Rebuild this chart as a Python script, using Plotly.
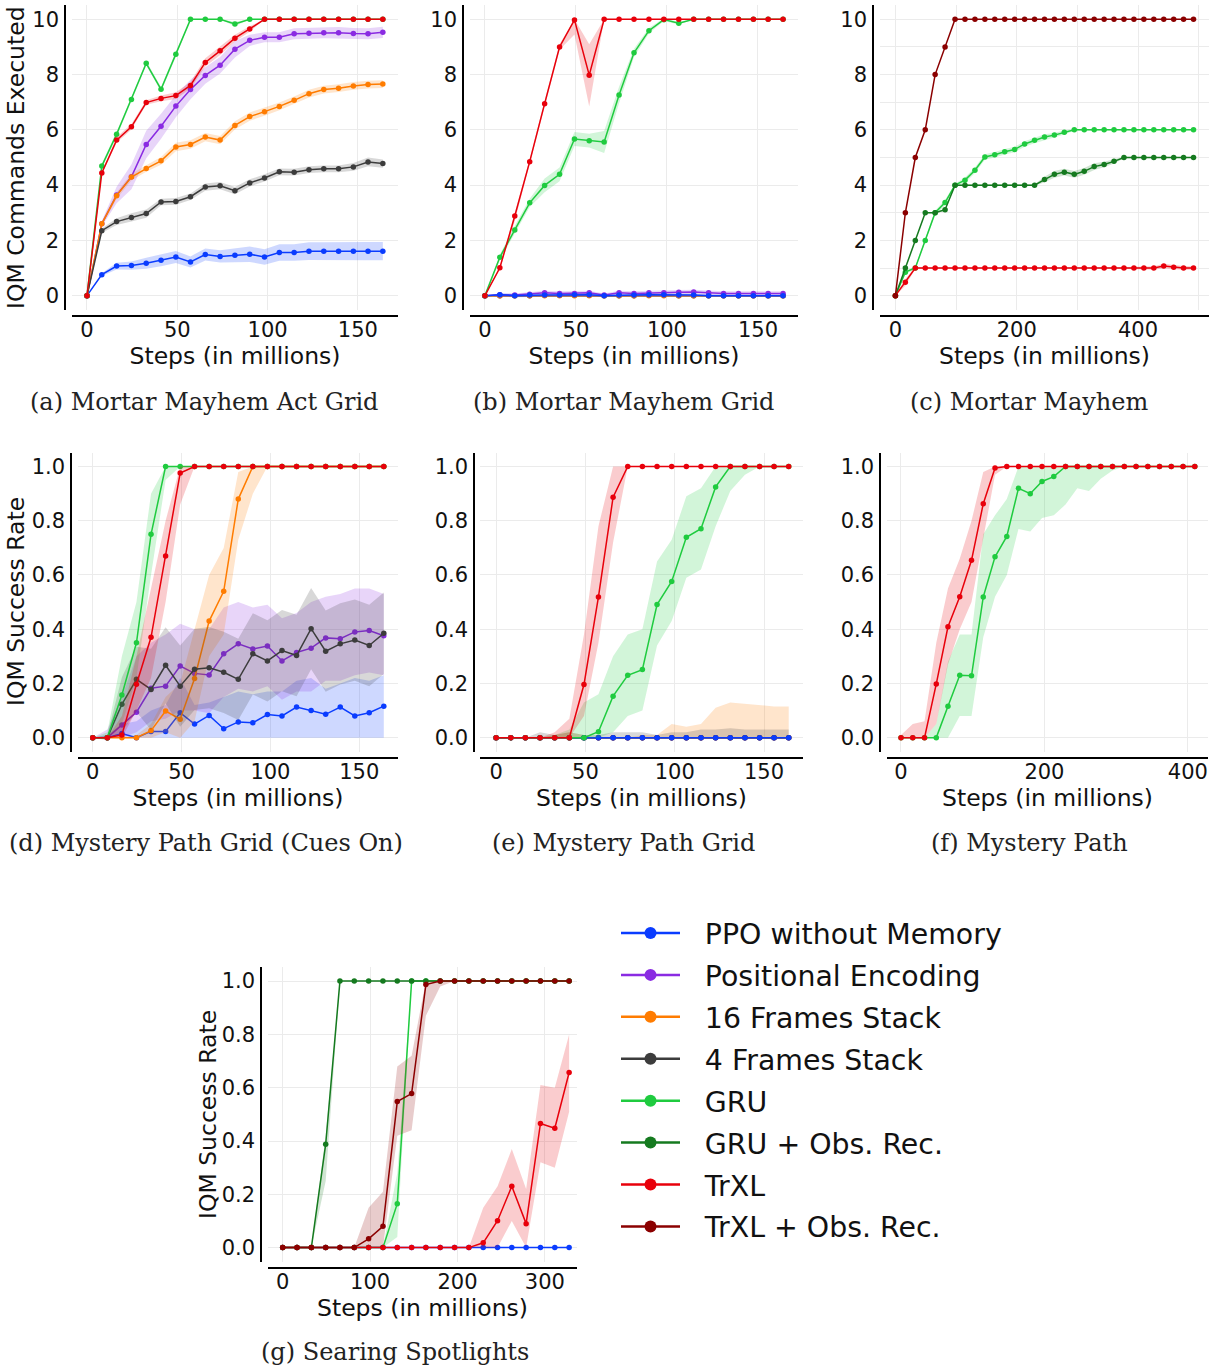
import plotly.graph_objects as go

W, H = 1220, 1369

# ---------------- x values (steps in millions) ----------------
X8 = [0, 8.2, 16.4, 24.6, 32.8, 41.0, 49.2, 57.3, 65.5, 73.7, 81.9, 90.1, 98.3,
      106.5, 114.7, 122.9, 131.1, 139.3, 147.5, 155.6, 163.8]
X16 = [0, 16.4, 32.8, 49.2, 65.5, 81.9, 98.3, 114.7, 131.1, 147.5, 163.8, 180.2,
       196.6, 213.0, 229.4, 245.8, 262.1, 278.5, 294.9, 311.3, 327.7, 344.1, 360.4,
       376.8, 393.2, 409.6, 426.0, 442.4, 458.8, 475.1, 491.5]
X16_F = X16[:26]
X16_G = X16[:21]

# ---------------- (a) Mortar Mayhem Act Grid ----------------
A_PPO = [0, 0.76, 1.07, 1.09, 1.17, 1.28, 1.40, 1.22, 1.49, 1.42, 1.46, 1.50, 1.40, 1.56, 1.56, 1.61, 1.61, 1.61, 1.61, 1.61, 1.61]
A_PPO_SD = [0, 0.05, 0.12, 0.15, 0.2, 0.22, 0.22, 0.2, 0.22, 0.22, 0.25, 0.28, 0.28, 0.3, 0.3, 0.32, 0.32, 0.33, 0.33, 0.33, 0.33]
A_POS = [0, 2.60, 3.64, 4.30, 5.47, 6.13, 6.86, 7.46, 7.97, 8.34, 8.92, 9.24, 9.35, 9.35, 9.48, 9.50, 9.52, 9.52, 9.49, 9.48, 9.53]
A_POS_SD = [0, 0.1, 0.3, 0.45, 0.5, 0.45, 0.4, 0.35, 0.3, 0.3, 0.3, 0.2, 0.18, 0.18, 0.2, 0.2, 0.2, 0.2, 0.2, 0.2, 0.2]
A_F16 = [0, 2.60, 3.62, 4.29, 4.60, 4.88, 5.38, 5.47, 5.74, 5.63, 6.16, 6.48, 6.66, 6.85, 7.07, 7.31, 7.46, 7.51, 7.59, 7.64, 7.66]
A_F16_SD = [0, 0.08, 0.12, 0.12, 0.12, 0.14, 0.15, 0.15, 0.15, 0.15, 0.15, 0.15, 0.15, 0.14, 0.14, 0.14, 0.14, 0.14, 0.14, 0.14, 0.14]
A_F4 = [0, 2.35, 2.68, 2.83, 2.97, 3.39, 3.41, 3.58, 3.93, 3.98, 3.80, 4.08, 4.26, 4.48, 4.47, 4.56, 4.59, 4.59, 4.66, 4.84, 4.78]
A_F4_SD = [0, 0.08, 0.12, 0.15, 0.15, 0.12, 0.12, 0.12, 0.13, 0.13, 0.13, 0.13, 0.13, 0.12, 0.12, 0.12, 0.12, 0.12, 0.14, 0.16, 0.15]
A_GRU = [0, 4.69, 5.84, 7.10, 8.41, 7.47, 8.74, 10, 10, 10, 9.83, 10, 10, 10, 10, 10, 10, 10, 10, 10, 10]
A_GRU_SD = [0, 0.08, 0.1, 0.08, 0.08, 0.08, 0.1, 0, 0, 0, 0.08, 0, 0, 0, 0, 0, 0, 0, 0, 0, 0]
A_TRXL = [0, 4.44, 5.63, 6.11, 6.99, 7.14, 7.24, 7.61, 8.44, 8.86, 9.32, 9.65, 10, 10, 10, 10, 10, 10, 10, 10, 10]
A_TRXL_SD = [0, 0.05, 0.1, 0.1, 0.08, 0.1, 0.12, 0.12, 0.15, 0.15, 0.12, 0.1, 0, 0, 0, 0, 0, 0, 0, 0, 0]

# ---------------- (b) Mortar Mayhem Grid ----------------
B_PPO = [0, 0.03, 0, 0.02, 0.02, 0.02, 0.03, 0.03, 0, 0.02, 0.02, 0.03, 0.03, 0.02, 0.02, 0, 0, 0, 0, 0, 0]
B_PPO_SD = [0, 0.06, 0.06, 0.06, 0.06, 0.06, 0.06, 0.06, 0.05, 0.05, 0.05, 0.05, 0.05, 0.05, 0.05, 0.04, 0.04, 0.04, 0.04, 0.04, 0.04]
B_POS = [0, 0.03, 0.02, 0.05, 0.1, 0.08, 0.08, 0.1, 0.02, 0.1, 0.08, 0.1, 0.1, 0.12, 0.13, 0.1, 0.08, 0.08, 0.08, 0.08, 0.08]
B_POS_SD = [0, 0.05, 0.06, 0.08, 0.08, 0.08, 0.08, 0.08, 0.06, 0.08, 0.08, 0.08, 0.08, 0.08, 0.08, 0.08, 0.08, 0.08, 0.08, 0.08, 0.08]
B_F16 = [0, 0, 0, 0, 0, 0, 0, 0, 0, 0, 0, 0, 0, 0, 0, 0, 0, 0, 0, 0, 0]
B_F16_SD = [0, 0.01, 0.01, 0.02, 0.02, 0.02, 0.02, 0.02, 0.02, 0.02, 0.02, 0.02, 0.02, 0.02, 0.02, 0.02, 0.02, 0.02, 0.02, 0.02, 0.02]
B_F4 = [0, 0, 0, 0, 0.01, 0.01, 0.01, 0.01, 0, 0, 0, 0.01, 0.01, 0, 0, 0, 0, 0, 0, 0, 0]
B_F4_SD = [0, 0.02, 0.02, 0.03, 0.03, 0.03, 0.03, 0.03, 0.02, 0.03, 0.03, 0.03, 0.03, 0.03, 0.03, 0.03, 0.02, 0.02, 0.02, 0.02, 0.02]
B_GRU = [0, 1.39, 2.38, 3.36, 3.99, 4.39, 5.67, 5.61, 5.56, 7.26, 8.79, 9.59, 9.99, 9.86, 10, 10, 10, 10, 10, 10, 10]
B_GRU_SD = [0, 0.1, 0.15, 0.15, 0.25, 0.25, 0.25, 0.25, 0.4, 0.3, 0.15, 0.1, 0.05, 0.05, 0, 0, 0, 0, 0, 0, 0]
B_TRXL = [0, 1.01, 2.88, 4.85, 6.95, 9.0, 9.98, 7.98, 10, 10, 10, 10, 10, 10, 10, 10, 10, 10, 10, 10, 10]
B_TRXL_LO = [0, 0.95, 2.7, 4.75, 6.85, 8.9, 9.45, 6.85, 10, 10, 10, 10, 10, 10, 10, 10, 10, 10, 10, 10, 10]
B_TRXL_HI = [0, 1.05, 3.0, 4.95, 7.05, 9.1, 10, 9.1, 10, 10, 10, 10, 10, 10, 10, 10, 10, 10, 10, 10, 10]

# ---------------- (c) Mortar Mayhem ----------------
C_GRU = [0, 0.85, 1.0, 2.0, 3.0, 3.37, 4.0, 4.18, 4.54, 5.02, 5.10, 5.21, 5.29, 5.49, 5.62, 5.74, 5.81, 5.91,
         6.0, 6.0, 6.0, 6.0, 6.0, 6.0, 6.0, 6.0, 6.0, 6.0, 6.0, 6.0, 6.0]
C_GRU_SD = [0, 0.05, 0.05, 0.05, 0.08, 0.1, 0.05, 0.1, 0.1, 0.1, 0.1, 0.1, 0.1, 0.1, 0.1, 0.1, 0.08, 0.08,
            0.03, 0.02, 0.02, 0.02, 0.02, 0.02, 0.02, 0.02, 0.02, 0.02, 0.02, 0.02, 0.02]
C_GRU_OBS = [0, 1, 2, 3, 3, 3.11, 4, 4, 4, 4, 4, 4, 4, 4, 4, 4.2, 4.39, 4.47, 4.39, 4.5, 4.67, 4.75, 4.86,
             5.0, 5.0, 5.0, 5.0, 5.0, 5.0, 5.0, 5.0]
C_GRU_OBS_SD = [0, 0.02, 0.02, 0.02, 0.02, 0.05, 0.02, 0.02, 0.02, 0.02, 0.02, 0.02, 0.02, 0.02, 0.03, 0.1, 0.12,
                0.12, 0.12, 0.12, 0.12, 0.1, 0.08, 0.03, 0.02, 0.02, 0.02, 0.02, 0.02, 0.02, 0.02]
C_TRXL = [0, 0.48, 1.0, 1.0, 1.0, 1.0, 1.0, 1.0, 1.0, 1.0, 1.0, 1.0, 1.0, 1.0, 1.0, 1.0, 1.0, 1.0, 1.0, 1.0,
          1.0, 1.0, 1.0, 1.0, 1.0, 1.0, 1.0, 1.07, 1.03, 1.0, 1.0]
C_TRXL_SD = [0, 0.12, 0.04, 0.02, 0.02, 0.02, 0.02, 0.02, 0.02, 0.02, 0.02, 0.02, 0.02, 0.02, 0.02, 0.02, 0.02,
             0.02, 0.02, 0.02, 0.02, 0.02, 0.03, 0.04, 0.05, 0.06, 0.06, 0.08, 0.08, 0.07, 0.06]
C_TRXL_OBS = [0, 3, 5, 6, 8, 9, 10, 10, 10, 10, 10, 10, 10, 10, 10, 10, 10, 10, 10, 10, 10, 10, 10, 10, 10,
              10, 10, 10, 10, 10, 10]

# ---------------- (d) Mystery Path Grid (Cues On) ----------------
D_PPO = [0, 0, 0.015, 0, 0.023, 0.023, 0.092, 0.05, 0.082, 0.033, 0.058, 0.055, 0.085, 0.08, 0.113, 0.10, 0.086, 0.113, 0.08, 0.092, 0.116]
D_PPO_LO = [0, 0, 0, 0, 0, 0, 0, 0, 0, 0, 0, 0, 0, 0, 0, 0, 0, 0, 0, 0, 0]
D_PPO_HI = [0, 0.01, 0.05, 0.06, 0.1, 0.12, 0.22, 0.12, 0.13, 0.15, 0.17, 0.16, 0.17, 0.17, 0.21, 0.22, 0.18, 0.2, 0.22, 0.21, 0.23]
D_POS = [0, 0, 0.047, 0.094, 0.182, 0.19, 0.264, 0.237, 0.231, 0.309, 0.346, 0.327, 0.338, 0.283, 0.314, 0.33, 0.368, 0.365, 0.39, 0.395, 0.376]
D_POS_LO = [0, 0, 0, 0.02, 0.06, 0.07, 0.1, 0.1, 0.09, 0.15, 0.18, 0.17, 0.19, 0.14, 0.17, 0.17, 0.21, 0.21, 0.23, 0.24, 0.23]
D_POS_HI = [0, 0.03, 0.15, 0.3, 0.35, 0.38, 0.42, 0.4, 0.4, 0.48, 0.5, 0.48, 0.49, 0.44, 0.46, 0.5, 0.52, 0.53, 0.55, 0.55, 0.53]
D_F16 = [0, 0, 0, 0, 0.026, 0.098, 0.068, 0.218, 0.43, 0.54, 0.88, 1.0, 1.0, 1.0, 1.0, 1.0, 1.0, 1.0, 1.0, 1.0, 1.0]
D_F16_LO = [0, 0, 0, 0, 0, 0.02, 0, 0.06, 0.3, 0.38, 0.73, 0.9, 1.0, 1.0, 1.0, 1.0, 1.0, 1.0, 1.0, 1.0, 1.0]
D_F16_HI = [0, 0, 0, 0.01, 0.05, 0.15, 0.2, 0.4, 0.6, 0.7, 0.98, 1.0, 1.0, 1.0, 1.0, 1.0, 1.0, 1.0, 1.0, 1.0, 1.0]
D_F4 = [0, 0, 0.123, 0.215, 0.178, 0.267, 0.19, 0.252, 0.258, 0.241, 0.215, 0.309, 0.283, 0.321, 0.303, 0.402, 0.319, 0.346, 0.36, 0.34, 0.385]
D_F4_SD = [0, 0.01, 0.1, 0.12, 0.15, 0.14, 0.15, 0.15, 0.15, 0.15, 0.15, 0.15, 0.15, 0.15, 0.15, 0.15, 0.15, 0.15, 0.15, 0.15, 0.15]
D_GRU = [0, 0, 0.157, 0.35, 0.75, 1.0, 1.0, 1.0, 1.0, 1.0, 1.0, 1.0, 1.0, 1.0, 1.0, 1.0, 1.0, 1.0, 1.0, 1.0, 1.0]
D_GRU_LO = [0, 0, 0.05, 0.22, 0.6, 0.95, 1.0, 1.0, 1.0, 1.0, 1.0, 1.0, 1.0, 1.0, 1.0, 1.0, 1.0, 1.0, 1.0, 1.0, 1.0]
D_GRU_HI = [0, 0.02, 0.3, 0.5, 0.9, 1.0, 1.0, 1.0, 1.0, 1.0, 1.0, 1.0, 1.0, 1.0, 1.0, 1.0, 1.0, 1.0, 1.0, 1.0, 1.0]
D_TRXL = [0, 0, 0.01, 0.197, 0.37, 0.67, 0.976, 1.0, 1.0, 1.0, 1.0, 1.0, 1.0, 1.0, 1.0, 1.0, 1.0, 1.0, 1.0, 1.0, 1.0]
D_TRXL_LO = [0, 0, 0, 0.1, 0.22, 0.5, 0.86, 1.0, 1.0, 1.0, 1.0, 1.0, 1.0, 1.0, 1.0, 1.0, 1.0, 1.0, 1.0, 1.0, 1.0]
D_TRXL_HI = [0, 0, 0.08, 0.3, 0.55, 0.8, 1.0, 1.0, 1.0, 1.0, 1.0, 1.0, 1.0, 1.0, 1.0, 1.0, 1.0, 1.0, 1.0, 1.0, 1.0]

# ---------------- (e) Mystery Path Grid ----------------
E_ZERO = [0, 0, 0, 0, 0, 0, 0, 0, 0, 0, 0, 0, 0, 0, 0, 0, 0, 0, 0, 0, 0]
E_F16_HI = [0, 0, 0, 0, 0.01, 0.02, 0.01, 0, 0, 0, 0.01, 0.01, 0.05, 0.04, 0.05, 0.11, 0.13, 0.125, 0.12, 0.115, 0.115]
E_F4_HI = [0, 0, 0, 0.02, 0.01, 0.02, 0.01, 0.01, 0.02, 0.02, 0.02, 0.01, 0.02, 0.02, 0.03, 0.03, 0.035, 0.03, 0.03, 0.03, 0.03]
E_GRU = [0, 0, 0, 0, 0, 0, 0, 0.022, 0.153, 0.23, 0.251, 0.491, 0.576, 0.739, 0.771, 0.925, 1.0, 1.0, 1.0, 1.0, 1.0]
E_GRU_LO = [0, 0, 0, 0, 0, 0, 0, 0, 0.02, 0.08, 0.1, 0.34, 0.43, 0.59, 0.62, 0.78, 0.91, 0.97, 1.0, 1.0, 1.0]
E_GRU_HI = [0, 0, 0, 0, 0.01, 0.03, 0.13, 0.16, 0.3, 0.38, 0.4, 0.65, 0.73, 0.89, 0.92, 1.0, 1.0, 1.0, 1.0, 1.0, 1.0]
E_TRXL = [0, 0, 0, 0, 0, 0, 0.196, 0.519, 0.887, 1.0, 1.0, 1.0, 1.0, 1.0, 1.0, 1.0, 1.0, 1.0, 1.0, 1.0, 1.0]
E_TRXL_LO = [0, 0, 0, 0, 0, 0, 0.08, 0.35, 0.72, 1.0, 1.0, 1.0, 1.0, 1.0, 1.0, 1.0, 1.0, 1.0, 1.0, 1.0, 1.0]
E_TRXL_HI = [0, 0, 0, 0, 0.02, 0.07, 0.38, 0.78, 1.0, 1.0, 1.0, 1.0, 1.0, 1.0, 1.0, 1.0, 1.0, 1.0, 1.0, 1.0, 1.0]

# ---------------- (f) Mystery Path ----------------
F_GRU = [0, 0, 0, 0, 0.116, 0.23, 0.228, 0.519, 0.667, 0.742, 0.92, 0.90, 0.945, 0.963, 1.0,
         1.0, 1.0, 1.0, 1.0, 1.0, 1.0, 1.0, 1.0, 1.0, 1.0, 1.0]
F_GRU_LO = [0, 0, 0, 0, 0, 0.08, 0.08, 0.37, 0.52, 0.6, 0.77, 0.76, 0.81, 0.82, 0.86,
            0.92, 0.91, 0.955, 0.985, 1.0, 1.0, 1.0, 1.0, 1.0, 1.0, 1.0]
F_GRU_HI = [0, 0, 0, 0.05, 0.28, 0.38, 0.38, 0.75, 0.82, 0.88, 1.0, 1.0, 1.0, 1.0, 1.0,
            1.0, 1.0, 1.0, 1.0, 1.0, 1.0, 1.0, 1.0, 1.0, 1.0, 1.0]
F_TRXL = [0, 0, 0, 0.198, 0.409, 0.52, 0.654, 0.863, 0.995, 1.0, 1.0, 1.0, 1.0, 1.0, 1.0,
          1.0, 1.0, 1.0, 1.0, 1.0, 1.0, 1.0, 1.0, 1.0, 1.0, 1.0]
F_TRXL_LO = [0, 0, 0, 0.05, 0.27, 0.4, 0.5, 0.74, 0.97, 1.0, 1.0, 1.0, 1.0, 1.0, 1.0,
             1.0, 1.0, 1.0, 1.0, 1.0, 1.0, 1.0, 1.0, 1.0, 1.0, 1.0]
F_TRXL_HI = [0.01, 0.05, 0.06, 0.35, 0.55, 0.66, 0.8, 0.98, 1.0, 1.0, 1.0, 1.0, 1.0, 1.0, 1.0,
             1.0, 1.0, 1.0, 1.0, 1.0, 1.0, 1.0, 1.0, 1.0, 1.0, 1.0]

# ---------------- (g) Searing Spotlights ----------------
G_PPO = [0, 0, 0, 0, 0, 0, 0, 0, 0, 0, 0, 0, 0, 0, 0, 0, 0, 0, 0, 0, 0]
G_GRU = [0, 0, 0, 0, 0, 0, 0, 0, 0.165, 1.0, 1.0, 1.0, 1.0, 1.0, 1.0, 1.0, 1.0, 1.0, 1.0, 1.0, 1.0]
G_GRU_LO = [0, 0, 0, 0, 0, 0, 0, 0, 0.04, 1.0, 1.0, 1.0, 1.0, 1.0, 1.0, 1.0, 1.0, 1.0, 1.0, 1.0, 1.0]
G_GRU_HI = [0, 0, 0, 0, 0, 0, 0, 0, 0.28, 1.0, 1.0, 1.0, 1.0, 1.0, 1.0, 1.0, 1.0, 1.0, 1.0, 1.0, 1.0]
G_GRU_OBS = [0, 0, 0, 0.388, 1.0, 1.0, 1.0, 1.0, 1.0, 1.0, 1.0, 1.0, 1.0, 1.0, 1.0, 1.0, 1.0, 1.0, 1.0, 1.0, 1.0]
G_GRU_OBS_LO = [0, 0, 0, 0.25, 1.0, 1.0, 1.0, 1.0, 1.0, 1.0, 1.0, 1.0, 1.0, 1.0, 1.0, 1.0, 1.0, 1.0, 1.0, 1.0, 1.0]
G_GRU_OBS_HI = [0, 0, 0, 0.42, 1.0, 1.0, 1.0, 1.0, 1.0, 1.0, 1.0, 1.0, 1.0, 1.0, 1.0, 1.0, 1.0, 1.0, 1.0, 1.0, 1.0]
G_TRXL = [0, 0, 0, 0, 0, 0, 0, 0, 0, 0, 0, 0, 0, 0, 0.018, 0.101, 0.23, 0.09, 0.466, 0.448, 0.657]
G_TRXL_LO = [0, 0, 0, 0, 0, 0, 0, 0, 0, 0, 0, 0, 0, 0, 0, 0, 0.1, 0, 0.32, 0.3, 0.51]
G_TRXL_HI = [0, 0, 0, 0, 0, 0, 0, 0, 0, 0, 0, 0, 0, 0, 0.15, 0.23, 0.37, 0.22, 0.61, 0.6, 0.8]
G_TRXL_OBS = [0, 0, 0, 0, 0, 0, 0.033, 0.08, 0.548, 0.578, 0.987, 1.0, 1.0, 1.0, 1.0, 1.0, 1.0, 1.0, 1.0, 1.0, 1.0]
G_TRXL_OBS_LO = [0, 0, 0, 0, 0, 0, 0, 0, 0.42, 0.44, 0.87, 0.98, 1.0, 1.0, 1.0, 1.0, 1.0, 1.0, 1.0, 1.0, 1.0]
G_TRXL_OBS_HI = [0, 0, 0, 0, 0, 0, 0.15, 0.21, 0.68, 0.72, 1.0, 1.0, 1.0, 1.0, 1.0, 1.0, 1.0, 1.0, 1.0, 1.0, 1.0]

NAMES = ["PPO without Memory", "Positional Encoding", "16 Frames Stack", "4 Frames Stack",
         "GRU", "GRU + Obs. Rec.", "TrXL", "TrXL + Obs. Rec."]
COLORS = ["#0a3cff", "#8a2be2", "#ff7c00", "#3c3c3c", "#1fcb3f", "#157a1f", "#e8000b", "#8b0000"]
CAPTIONS = ["(a) Mortar Mayhem Act Grid", "(b) Mortar Mayhem Grid", "(c) Mortar Mayhem",
            "(d) Mystery Path Grid (Cues On)", "(e) Mystery Path Grid", "(f) Mystery Path",
            "(g) Searing Spotlights"]
YTITLES = ["IQM Commands Executed", "IQM Success Rate", "IQM Success Rate"]

FONT = "DejaVu Sans"
fig = go.Figure()


def rgba(h, a):
    h = h.lstrip("#")
    return "rgba(%d,%d,%d,%.2f)" % (int(h[0:2], 16), int(h[2:4], 16), int(h[4:6], 16), a)


def sd_bounds(y, sd):
    return [a - b for a, b in zip(y, sd)], [a + b for a, b in zip(y, sd)]


def series(k, xs, ys, lo, hi, ci):
    xa = "x" if k == 1 else "x%d" % k
    ya = "y" if k == 1 else "y%d" % k
    c = COLORS[ci]
    fig.add_trace(go.Scatter(x=list(xs) + list(xs)[::-1], y=list(hi) + list(lo)[::-1],
                             fill="toself", fillcolor=rgba(c, 0.2), line=dict(width=0),
                             mode="lines", hoverinfo="skip", showlegend=False,
                             xaxis=xa, yaxis=ya))
    fig.add_trace(go.Scatter(x=xs, y=ys, mode="lines+markers", line=dict(color=c, width=1.5),
                             marker=dict(color=c, size=5.5), showlegend=False, name=NAMES[ci],
                             xaxis=xa, yaxis=ya))


# (a)
series(1, X8, A_PPO, *sd_bounds(A_PPO, A_PPO_SD), 0)
series(1, X8, A_POS, *sd_bounds(A_POS, A_POS_SD), 1)
series(1, X8, A_F16, *sd_bounds(A_F16, A_F16_SD), 2)
series(1, X8, A_F4, *sd_bounds(A_F4, A_F4_SD), 3)
series(1, X8, A_GRU, *sd_bounds(A_GRU, A_GRU_SD), 4)
series(1, X8, A_TRXL, *sd_bounds(A_TRXL, A_TRXL_SD), 6)
# (b)
series(2, X8, B_F4, *sd_bounds(B_F4, B_F4_SD), 3)
series(2, X8, B_F16, *sd_bounds(B_F16, B_F16_SD), 2)
series(2, X8, B_POS, *sd_bounds(B_POS, B_POS_SD), 1)
series(2, X8, B_PPO, *sd_bounds(B_PPO, B_PPO_SD), 0)
series(2, X8, B_GRU, *sd_bounds(B_GRU, B_GRU_SD), 4)
series(2, X8, B_TRXL, B_TRXL_LO, B_TRXL_HI, 6)
# (c)
series(3, X16, C_GRU, *sd_bounds(C_GRU, C_GRU_SD), 4)
series(3, X16, C_GRU_OBS, *sd_bounds(C_GRU_OBS, C_GRU_OBS_SD), 5)
series(3, X16, C_TRXL, *sd_bounds(C_TRXL, C_TRXL_SD), 6)
series(3, X16, C_TRXL_OBS, C_TRXL_OBS, C_TRXL_OBS, 7)
# (d)
series(4, X8, D_PPO, D_PPO_LO, D_PPO_HI, 0)
series(4, X8, D_POS, D_POS_LO, D_POS_HI, 1)
series(4, X8, D_F16, D_F16_LO, D_F16_HI, 2)
series(4, X8, D_F4, *sd_bounds(D_F4, D_F4_SD), 3)
series(4, X8, D_GRU, D_GRU_LO, D_GRU_HI, 4)
series(4, X8, D_TRXL, D_TRXL_LO, D_TRXL_HI, 6)
# (e)
series(5, X8, E_ZERO, E_ZERO, E_ZERO, 1)
series(5, X8, E_ZERO, E_ZERO, E_F16_HI, 2)
series(5, X8, E_ZERO, E_ZERO, E_F4_HI, 3)
series(5, X8, E_ZERO, E_ZERO, E_ZERO, 0)
series(5, X8, E_GRU, E_GRU_LO, E_GRU_HI, 4)
series(5, X8, E_TRXL, E_TRXL_LO, E_TRXL_HI, 6)
# (f)
series(6, X16_F, F_GRU, F_GRU_LO, F_GRU_HI, 4)
series(6, X16_F, F_TRXL, F_TRXL_LO, F_TRXL_HI, 6)
# (g)
series(7, X16_G, G_PPO, G_PPO, G_PPO, 0)
series(7, X16_G, G_GRU, G_GRU_LO, G_GRU_HI, 4)
series(7, X16_G, G_GRU_OBS, G_GRU_OBS_LO, G_GRU_OBS_HI, 5)
series(7, X16_G, G_TRXL, G_TRXL_LO, G_TRXL_HI, 6)
series(7, X16_G, G_TRXL_OBS, G_TRXL_OBS_LO, G_TRXL_OBS_HI, 7)

# legend-only entries (leading spaces give the gap between symbol and text)
for i, (n, c) in enumerate(zip(NAMES, COLORS)):
    fig.add_trace(go.Scatter(x=[None], y=[None], mode="lines+markers", name="\u2002\u2009" + n,
                             line=dict(color=c, width=2.5), marker=dict(color=c, size=12),
                             legendgroup="g%d" % i, legendrank=i + 1, showlegend=True,
                             xaxis="x", yaxis="y"))

# ---------------- axes layout (pixel geometry) ----------------
panels = [
    ((72, 398), (5, 310), 65, 316, [-8.3, 172.2], [-0.52, 10.52], 50, None, 2, None),
    ((470, 798), (5, 310), 463, 316, [-8.2, 172.0], [-0.52, 10.52], 50, None, 2, None),
    ((880, 1209), (5, 310), 873, 316, [-25.4, 517], [-0.52, 10.52], 200, 100, 2, 1),
    ((78, 398), (453, 752), 71, 758, [-8.3, 171.8], [-0.053, 1.05], 50, None, 0.2, None),
    ((480, 803), (453, 752), 474, 758, [-9.0, 171.8], [-0.053, 1.05], 50, None, 0.2, None),
    ((887, 1208), (453, 752), 880, 758, [-19.5, 428], [-0.053, 1.05], 200, None, 0.2, None),
    ((268, 577), (967, 1262), 261, 1268, [-16.8, 336.7], [-0.054, 1.053], 100, None, 0.2, None),
]

GRID = "#ebebeb"
TICKF = dict(family=FONT, size=21, color="#111111")
TITLEF = dict(family=FONT, size=23.5, color="#111111")
layout = {}
for k, (xd, yd, ylx, xly, xr, yr, xdt, xmin, ydt, ymin) in enumerate(panels, start=1):
    xkey = "xaxis" if k == 1 else "xaxis%d" % k
    ykey = "yaxis" if k == 1 else "yaxis%d" % k
    xa = dict(domain=[xd[0] / W, xd[1] / W], anchor="free", position=1 - xly / H,
              range=xr, dtick=xdt, tick0=0, showgrid=True, gridcolor=GRID, gridwidth=1,
              zeroline=False, showline=True, linecolor="#000000", linewidth=1.5,
              ticks="", tickfont=TICKF, ticklabelstandoff=-5,
              title=dict(text="Steps (in millions)", font=TITLEF, standoff=1))
    if xmin:
        xa["minor"] = dict(dtick=xmin, tick0=0, showgrid=True, gridcolor=GRID, gridwidth=1, ticks="")
    ya = dict(domain=[1 - yd[1] / H, 1 - yd[0] / H], anchor="free", position=ylx / W,
              range=yr, dtick=ydt, tick0=0, showgrid=True, gridcolor=GRID, gridwidth=1,
              zeroline=False, showline=True, linecolor="#000000", linewidth=1.5,
              ticks="", tickfont=TICKF, ticklabelstandoff=1)
    if ydt == 0.2:
        ya["tickformat"] = ".1f"
    if ymin:
        ya["minor"] = dict(dtick=ymin, tick0=0, showgrid=True, gridcolor=GRID, gridwidth=1, ticks="")
    layout[xkey] = xa
    layout[ykey] = ya

# captions and y-axis titles
cap_pos = [(204, 402), (623, 402), (1029, 402), (206, 843), (623, 843), (1029, 843), (395, 1352)]
annotations = []
for text, (cx, cy) in zip(CAPTIONS, cap_pos):
    annotations.append(dict(text=text, x=cx / W, y=1 - cy / H, xref="paper", yref="paper",
                            xanchor="center", yanchor="middle", showarrow=False,
                            font=dict(family="DejaVu Serif", size=24, color="#222222")))
ytitle_pos = [(16, 158), (16, 602), (208, 1115)]
for text, (cx, cy) in zip(YTITLES, ytitle_pos):
    annotations.append(dict(text=text, x=cx / W, y=1 - cy / H, xref="paper", yref="paper",
                            xanchor="center", yanchor="middle", showarrow=False, textangle=-90,
                            font=TITLEF))

fig.update_layout(
    width=W, height=H, margin=dict(l=0, r=0, t=0, b=0),
    paper_bgcolor="white", plot_bgcolor="white",
    font=dict(family=FONT, color="#111111"),
    annotations=annotations,
    legend=dict(x=616 / W, y=1 - 908 / H, xanchor="left", yanchor="top",
                font=dict(family=FONT, size=28.4, color="#111111"),
                itemwidth=59, tracegroupgap=2, bgcolor="rgba(0,0,0,0)"),
    **layout,
)

fig.write_html("out.html")
